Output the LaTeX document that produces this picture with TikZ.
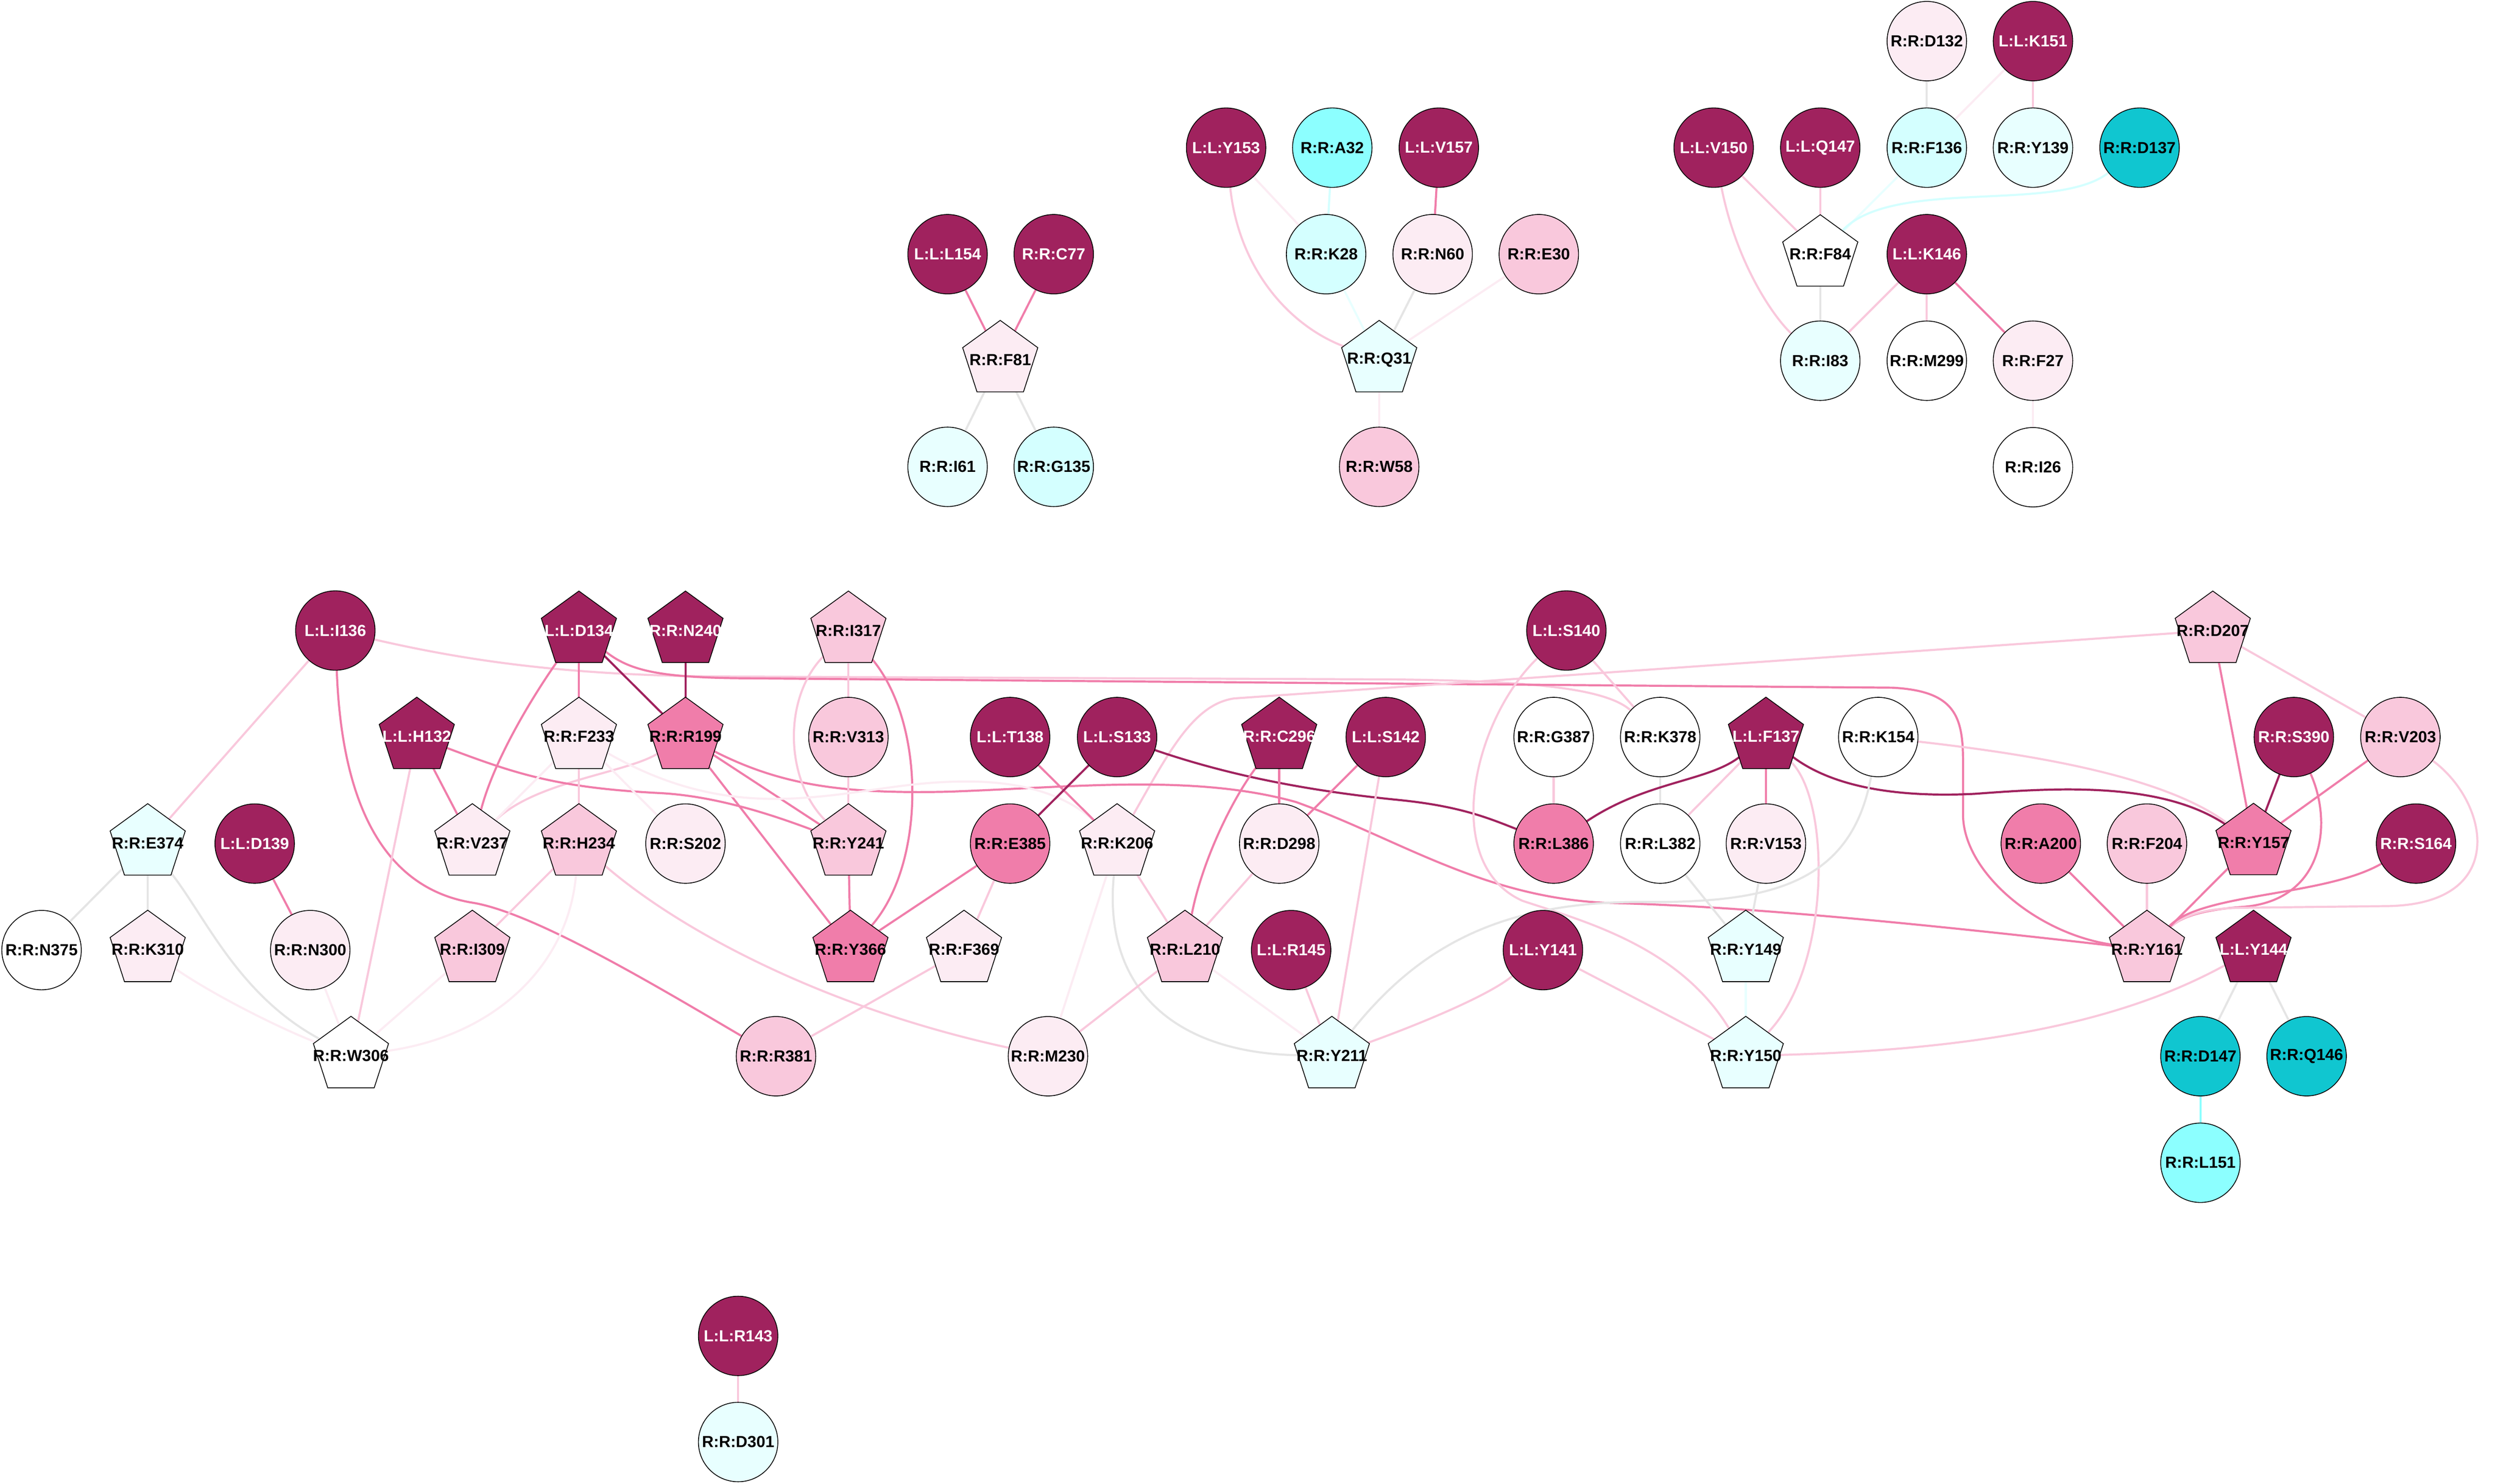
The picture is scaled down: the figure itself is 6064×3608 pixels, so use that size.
\documentclass[tikz,border=0pt]{standalone}
\usepackage{fontspec}
\setmainfont{Liberation Sans}
\usetikzlibrary{shapes.geometric,backgrounds}
\definecolor{cDk}{RGB}{160,34,94}
\definecolor{cMd}{RGB}{240,125,170}
\definecolor{cPk}{RGB}{249,200,220}
\definecolor{cLp}{RGB}{252,236,243}
\definecolor{cVc}{RGB}{232,255,255}
\definecolor{cLc}{RGB}{212,255,255}
\definecolor{cCy}{RGB}{140,255,255}
\definecolor{cTl}{RGB}{16,198,208}
\definecolor{cGr}{RGB}{229,229,229}
\newcommand{\zb}[1]{\makebox[0pt][c]{#1}}
\tikzset{
  nbase/.style={draw=black, line width=0.55pt, inner sep=0pt, outer sep=0pt, font=\bfseries\fontsize{11.1}{13}\selectfont},
  cir/.style={nbase, circle, minimum size=1.93cm},
  pen/.style={nbase, regular polygon, regular polygon sides=5, minimum size=1.92cm},
  fdk/.style={fill=cDk, text=white},
  fmd/.style={fill=cMd, text=black},
  fpk/.style={fill=cPk, text=black},
  flp/.style={fill=cLp, text=black},
  fwh/.style={fill=white, text=black},
  fvc/.style={fill=cVc, text=black},
  flc/.style={fill=cLc, text=black},
  fcy/.style={fill=cCy, text=black},
  ftl/.style={fill=cTl, text=black},
  ebase/.style={line width=1.45pt},
  edk/.style={ebase, draw=cDk},
  emd/.style={ebase, draw=cMd},
  epk/.style={ebase, draw=cPk},
  elp/.style={ebase, draw=cLp},
  egr/.style={ebase, draw=cGr},
  evc/.style={ebase, draw=cVc},
  elc/.style={ebase, draw=cLc},
  ecy/.style={ebase, draw=cCy},
}
\begin{document}
\begin{tikzpicture}[x=0.01cm, y=-0.01cm]
\useasboundingbox (0,0) rectangle (6064,3608);
% ---------- top clusters ----------
\node[cir,flp] (D132) at (4683,100) {\zb{R:R:D132}};
\node[cir,fdk] (K151) at (4941,100) {\zb{L:L:K151}};
\node[cir,fdk] (Y153) at (2980,359) {\zb{L:L:Y153}};
\node[cir,fcy] (A32) at (3238,359) {\zb{R:R:A32}};
\node[cir,fdk] (V157) at (3497,359) {\zb{L:L:V157}};
\node[cir,fdk] (V150) at (4165,359) {\zb{L:L:V150}};
\node[cir,fdk] (Q147) at (4424,359) {\zb{L:L:Q147}};
\node[cir,flc] (F136) at (4683,359) {\zb{R:R:F136}};
\node[cir,fvc] (Y139) at (4941,359) {\zb{R:R:Y139}};
\node[cir,ftl] (D137) at (5200,359) {\zb{R:R:D137}};
\node[cir,fdk] (L154) at (2303,618) {\zb{L:L:L154}};
\node[cir,fdk] (C77) at (2561,618) {\zb{R:R:C77}};
\node[cir,flc] (K28) at (3223,618) {\zb{R:R:K28}};
\node[cir,flp] (N60) at (3482,618) {\zb{R:R:N60}};
\node[cir,fpk] (E30) at (3740,618) {\zb{R:R:E30}};
\node[pen,fwh] (F84) at (4424,618) {\zb{R:R:F84}};
\node[cir,fdk] (K146) at (4683,618) {\zb{L:L:K146}};
\node[pen,flp] (F81) at (2431,875) {\zb{R:R:F81}};
\node[pen,fvc] (Q31) at (3352,875) {\zb{R:R:Q31}};
\node[cir,fvc] (I83) at (4424,877) {\zb{R:R:I83}};
\node[cir,fwh] (M299) at (4683,877) {\zb{R:R:M299}};
\node[cir,flp] (F27) at (4941,877) {\zb{R:R:F27}};
\node[cir,fvc] (I61) at (2303,1135) {\zb{R:R:I61}};
\node[cir,flc] (G135) at (2561,1135) {\zb{R:R:G135}};
\node[cir,fpk] (W58) at (3352,1135) {\zb{R:R:W58}};
\node[cir,fwh] (I26) at (4941,1136) {\zb{R:R:I26}};
% ---------- main cluster ----------
\node[cir,fdk] (I136) at (815,1533) {\zb{L:L:I136}};
\node[pen,fdk] (D134) at (1407,1533) {\zb{L:L:D134}};
\node[pen,fdk] (N240) at (1666,1533) {\zb{R:R:N240}};
\node[pen,fpk] (I317) at (2062,1533) {\zb{R:R:I317}};
\node[cir,fdk] (S140) at (3807,1533) {\zb{L:L:S140}};
\node[pen,fpk] (D207) at (5378,1533) {\zb{R:R:D207}};
\node[pen,fdk] (H132) at (1013,1791) {\zb{L:L:H132}};
\node[pen,flp] (F233) at (1407,1791) {\zb{R:R:F233}};
\node[pen,fmd] (R199) at (1666,1791) {\zb{R:R:R199}};
\node[cir,fpk] (V313) at (2062,1792) {\zb{R:R:V313}};
\node[cir,fdk] (T138) at (2455,1792) {\zb{L:L:T138}};
\node[cir,fdk] (S133) at (2715,1792) {\zb{L:L:S133}};
\node[pen,fdk] (C296) at (3109,1791) {\zb{R:R:C296}};
\node[cir,fdk] (S142) at (3368,1792) {\zb{L:L:S142}};
\node[cir,fwh] (G387) at (3776,1792) {\zb{R:R:G387}};
\node[cir,fwh] (K378) at (4035,1792) {\zb{R:R:K378}};
\node[pen,fdk] (F137) at (4292,1791) {\zb{L:L:F137}};
\node[cir,fwh] (K154) at (4565,1792) {\zb{R:R:K154}};
\node[cir,fdk] (S390) at (5575,1792) {\zb{R:R:S390}};
\node[cir,fpk] (V203) at (5834,1792) {\zb{R:R:V203}};
\node[pen,fvc] (E374) at (359,2050) {\zb{R:R:E374}};
\node[cir,fdk] (D139) at (619,2051) {\zb{L:L:D139}};
\node[pen,flp] (V237) at (1148,2050) {\zb{R:R:V237}};
\node[pen,fpk] (H234) at (1407,2050) {\zb{R:R:H234}};
\node[cir,flp] (S202) at (1666,2051) {\zb{R:R:S202}};
\node[pen,fpk] (Y241) at (2062,2050) {\zb{R:R:Y241}};
\node[cir,fmd] (E385) at (2455,2051) {\zb{R:R:E385}};
\node[pen,flp] (K206) at (2715,2050) {\zb{R:R:K206}};
\node[cir,flp] (D298) at (3109,2051) {\zb{R:R:D298}};
\node[cir,fmd] (L386) at (3776,2051) {\zb{R:R:L386}};
\node[cir,fwh] (L382) at (4035,2051) {\zb{R:R:L382}};
\node[cir,flp] (V153) at (4292,2051) {\zb{R:R:V153}};
\node[cir,fmd] (A200) at (4960,2051) {\zb{R:R:A200}};
\node[cir,fpk] (F204) at (5218,2051) {\zb{R:R:F204}};
\node[pen,fmd] (Y157) at (5477,2049) {\zb{R:R:Y157}};
\node[cir,fdk] (S164) at (5872,2051) {\zb{R:R:S164}};
\node[cir,fwh] (N375) at (101,2310) {\zb{R:R:N375}};
\node[pen,flp] (K310) at (359,2309) {\zb{R:R:K310}};
\node[cir,flp] (N300) at (754,2310) {\zb{R:R:N300}};
\node[pen,fpk] (I309) at (1148,2309) {\zb{R:R:I309}};
\node[pen,fmd] (Y366) at (2067,2309) {\zb{R:R:Y366}};
\node[pen,flp] (F369) at (2343,2309) {\zb{R:R:F369}};
\node[pen,fpk] (L210) at (2880,2309) {\zb{R:R:L210}};
\node[cir,fdk] (R145) at (3138,2310) {\zb{L:L:R145}};
\node[cir,fdk] (Y141) at (3750,2310) {\zb{L:L:Y141}};
\node[pen,fvc] (Y149) at (4243,2309) {\zb{R:R:Y149}};
\node[pen,fpk] (Y161) at (5218,2309) {\zb{R:R:Y161}};
\node[pen,fdk] (Y144) at (5477,2309) {\zb{L:L:Y144}};
\node[pen,fwh] (W306) at (853,2567) {\zb{R:R:W306}};
\node[cir,fpk] (R381) at (1886,2568) {\zb{R:R:R381}};
\node[cir,flp] (M230) at (2547,2568) {\zb{R:R:M230}};
\node[pen,fvc] (Y211) at (3237,2567) {\zb{R:R:Y211}};
\node[pen,fvc] (Y150) at (4243,2567) {\zb{R:R:Y150}};
\node[cir,ftl] (D147) at (5348,2568) {\zb{R:R:D147}};
\node[cir,ftl] (Q146) at (5606,2568) {\zb{R:R:Q146}};
\node[cir,fcy] (L151) at (5348,2827) {\zb{R:R:L151}};
\node[cir,fdk] (R143) at (1794,3248) {\zb{L:L:R143}};
\node[cir,fvc] (D301) at (1794,3506) {\zb{R:R:D301}};
% ---------- edges ----------
\begin{pgfonlayer}{background}
\fill[white] (0,0) rectangle (6064,3608);
\draw[emd] (L154) -- (F81);
\draw[emd] (C77) -- (F81);
\draw[egr] (F81) -- (I61);
\draw[egr] (F81) -- (G135);
\draw[elp] (Y153) -- (K28);
\draw[epk] (Y153) .. controls (3010,650) and (3130,790) .. (Q31);
\draw[elc] (A32) -- (K28);
\draw[emd] (V157) -- (N60);
\draw[evc] (K28) -- (Q31);
\draw[egr] (N60) -- (Q31);
\draw[elp] (E30) -- (Q31);
\draw[elp] (Q31) -- (W58);
\draw[egr] (D132) -- (F136);
\draw[elp] (K151) -- (F136);
\draw[epk] (K151) -- (Y139);
\draw[evc] (F136) -- (F84);
\draw[elc] (D137) .. controls (5000,520) and (4600,430) .. (F84);
\draw[epk] (V150) -- (F84);
\draw[epk] (V150) .. controls (4220,640) and (4310,770) .. (I83);
\draw[epk] (Q147) -- (F84);
\draw[egr] (F84) -- (I83);
\draw[epk] (K146) -- (I83);
\draw[epk] (K146) -- (M299);
\draw[emd] (K146) -- (F27);
\draw[elp] (F27) -- (I26);
% main
\draw[epk] (I136) -- (E374);
\draw[emd] (I136) .. controls (830,1950) and (930,2160) .. (1150,2195) .. controls (1300,2220) and (1600,2400) .. (R381);
\draw[epk] (I136) .. controls (1150,1610) and (1400,1645) .. (1800,1645) -- (3400,1652) .. controls (3700,1656) and (3900,1670) .. (K378);
\draw[emd] (D134) .. controls (1530,1630) and (1600,1647) .. (1800,1649) -- (4600,1672) .. controls (4750,1680) and (4771,1740) .. (4771,1850) -- (4771,1980) .. controls (4771,2120) and (4950,2270) .. (Y161);
\draw[epk] (K206) .. controls (2840,1830) and (2900,1712) .. (3000,1698) -- (D207);
\draw[emd] (D134) -- (F233);
\draw[edk] (D134) -- (R199);
\draw[emd] (D134) .. controls (1290,1700) and (1200,1850) .. (V237);
\draw[edk] (N240) -- (R199);
\draw[epk] (R199) .. controls (1520,1880) and (1300,1900) .. (V237);
\draw[emd] (R199) -- (Y241);
\draw[emd] (R199) -- (Y366);
\draw[emd] (R199) .. controls (1900,1910) and (2050,1930) .. (2300,1925) .. controls (2600,1915) and (2900,1880) .. (3150,1950) .. controls (3400,2040) and (3600,2180) .. (3900,2195) .. controls (4100,2200) and (4400,2215) .. (Y161);
\draw[epk] (I317) -- (V313);
\draw[epk] (I317) .. controls (1900,1700) and (1910,1900) .. (Y241);
\draw[emd] (I317) .. controls (2250,1760) and (2250,2100) .. (Y366);
\draw[epk] (V313) -- (Y241);
\draw[emd] (Y241) -- (Y366);
\draw[emd] (H132) -- (V237);
\draw[emd] (H132) .. controls (1250,1880) and (1350,1915) .. (1600,1928) .. controls (1750,1935) and (1900,1990) .. (Y241);
\draw[epk] (H132) -- (W306);
\draw[elp] (F233) -- (V237);
\draw[elp] (F233) -- (S202);
\draw[epk] (F233) -- (H234);
\draw[elp] (F233) .. controls (1650,1930) and (1800,1950) .. (1950,1940) .. controls (2100,1930) and (2200,1900) .. (2350,1900) .. controls (2500,1900) and (2600,1940) .. (K206);
\draw[epk] (H234) -- (I309);
\draw[elp] (H234) .. controls (1380,2350) and (1200,2520) .. (W306);
\draw[epk] (H234) .. controls (1650,2260) and (2000,2450) .. (M230);
\draw[emd] (D139) -- (N300);
\draw[elp] (N300) -- (W306);
\draw[egr] (E374) -- (N375);
\draw[egr] (E374) -- (K310);
\draw[egr] (E374) .. controls (500,2230) and (580,2420) .. (W306);
\draw[elp] (K310) .. controls (520,2420) and (680,2500) .. (W306);
\draw[elp] (I309) -- (W306);
\draw[emd] (T138) -- (K206);
\draw[edk] (S133) -- (E385);
\draw[edk] (S133) .. controls (3000,1890) and (3200,1925) .. (3400,1945) .. controls (3550,1960) and (3620,1990) .. (L386);
\draw[emd] (E385) -- (Y366);
\draw[epk] (E385) -- (F369);
\draw[epk] (F369) -- (R381);
\draw[epk] (K206) -- (L210);
\draw[elp] (K206) -- (M230);
\draw[egr] (K206) .. controls (2680,2400) and (2850,2560) .. (Y211);
\draw[emd] (C296) -- (D298);
\draw[emd] (C296) .. controls (2990,1950) and (2920,2100) .. (L210);
\draw[emd] (S142) -- (D298);
\draw[epk] (S142) -- (Y211);
\draw[epk] (D298) -- (L210);
\draw[epk] (L210) -- (M230);
\draw[elp] (L210) -- (Y211);
\draw[epk] (R145) -- (Y211);
\draw[epk] (Y141) .. controls (3620,2420) and (3450,2490) .. (Y211);
\draw[epk] (Y141) -- (Y150);
\draw[epk] (S140) -- (K378);
\draw[epk] (S140) .. controls (3580,1750) and (3500,2100) .. (3700,2190) .. controls (3850,2240) and (4080,2300) .. (Y150);
\draw[epk] (G387) -- (L386);
\draw[egr] (K378) -- (L382);
\draw[edk] (F137) .. controls (4150,1900) and (4000,1900) .. (L386);
\draw[epk] (F137) -- (L382);
\draw[emd] (F137) -- (V153);
\draw[edk] (F137) .. controls (4450,1910) and (4600,1940) .. (4800,1930) .. controls (5000,1915) and (5250,1900) .. (Y157);
\draw[epk] (F137) .. controls (4450,1950) and (4450,2350) .. (Y150);
\draw[egr] (V153) -- (Y149);
\draw[egr] (L382) -- (Y149);
\draw[evc] (Y149) -- (Y150);
\draw[egr] (K154) .. controls (4500,2150) and (4300,2195) .. (4000,2193) .. controls (3650,2190) and (3450,2300) .. (Y211);
\draw[epk] (K154) .. controls (4900,1830) and (5250,1880) .. (Y157);
\draw[emd] (D207) -- (Y157);
\draw[epk] (D207) -- (V203);
\draw[edk] (S390) -- (Y157);
\draw[emd] (S390) .. controls (5670,2000) and (5650,2190) .. (5450,2205) .. controls (5350,2212) and (5300,2230) .. (Y161);
\draw[emd] (V203) -- (Y157);
\draw[epk] (V203) .. controls (6050,1950) and (6100,2200) .. (5800,2203) -- (5450,2207) .. controls (5350,2208) and (5300,2230) .. (Y161);
\draw[emd] (S164) .. controls (5650,2180) and (5350,2170) .. (Y161);
\draw[emd] (A200) -- (Y161);
\draw[epk] (F204) -- (Y161);
\draw[emd] (Y157) -- (Y161);
\draw[egr] (Y144) -- (D147);
\draw[egr] (Y144) -- (Q146);
\draw[ecy] (D147) -- (L151);
\draw[epk] (Y144) .. controls (5200,2460) and (4900,2550) .. (Y150);
\draw[epk] (R143) -- (D301);
\end{pgfonlayer}
\end{tikzpicture}
\end{document}
